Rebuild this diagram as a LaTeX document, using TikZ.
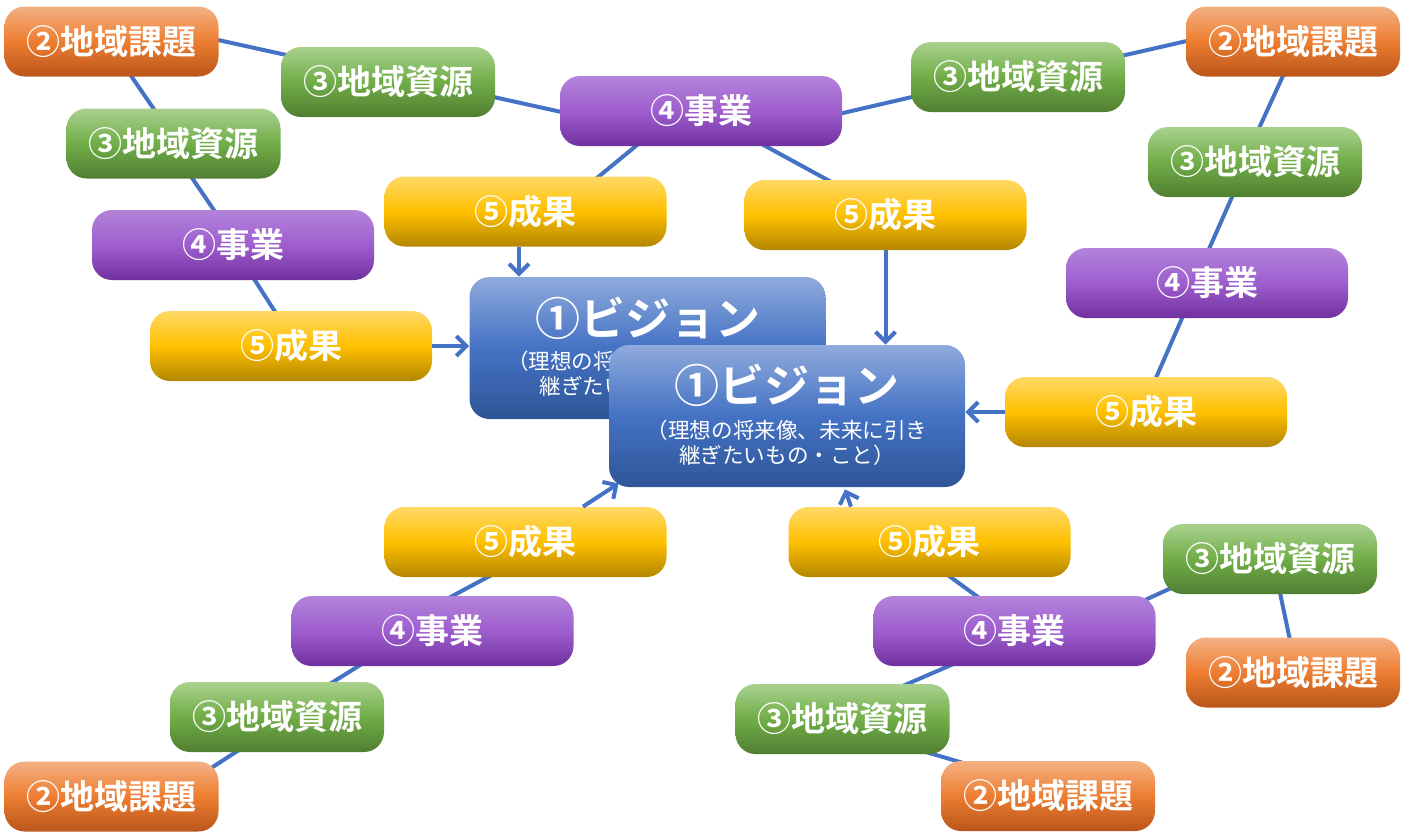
\documentclass[tikz,border=0pt]{standalone}
\usepackage{fontspec}
\newfontfamily\jp{Noto Sans CJK JP}[BoldFont={Noto Sans CJK JP Bold}]
\usetikzlibrary{arrows.meta,calc,backgrounds}
\definecolor{conn}{HTML}{4472C4}
\definecolor{orgT}{HTML}{F4B183}
\definecolor{orgM}{HTML}{ED7D31}
\definecolor{orgB}{HTML}{B9561A}
\definecolor{grnT}{HTML}{A9D18E}
\definecolor{grnM}{HTML}{70AD47}
\definecolor{grnB}{HTML}{507E32}
\definecolor{purT}{HTML}{B383DB}
\definecolor{purM}{HTML}{9E5ECE}
\definecolor{purB}{HTML}{7030A0}
\definecolor{ylwT}{HTML}{FFD966}
\definecolor{ylwM}{HTML}{FFC000}
\definecolor{ylwB}{HTML}{B38600}
\definecolor{bluT}{HTML}{8FAADC}
\definecolor{bluM}{HTML}{4472C4}
\definecolor{bluB}{HTML}{2F5597}
\begin{document}
\begin{tikzpicture}[x=0.5pt,y=-0.5pt,
  box/.style={rounded corners=10pt, minimum height=35pt, text=white, inner sep=0pt,
    font=\jp\bfseries\fontsize{17}{20}\selectfont},
  kadai/.style={box, minimum width=107pt, top color=orgT, bottom color=orgB, middle color=orgM},
  shigen/.style={box, minimum width=107pt, top color=grnT, bottom color=grnB, middle color=grnM},
  jigyo/.style={box, minimum width=141pt, top color=purT, bottom color=purB, middle color=purM},
  seika/.style={box, minimum width=141pt, top color=ylwT, bottom color=ylwB, middle color=ylwM},
  vision/.style={rounded corners=10pt, minimum width=178pt, minimum height=71pt, inner sep=0pt,
    top color=bluT, bottom color=bluB, middle color=bluM},
  vtitle/.style={text=white, inner sep=0pt, font=\jp\bfseries\fontsize{22.5}{27}\selectfont},
  vsub/.style={text=white, inner sep=0pt, align=center, font=\jp\fontsize{10.8}{12.5}\selectfont},
  link/.style={draw=conn, line width=2pt},
  arr/.style={link, -{Straight Barb[length=5pt,width=10pt]}}]
\useasboundingbox (0,0) rectangle (1407,832);

% top-left group
\node[kadai]  (r2a) at (111.5,41.5) {②地域課題};
\node[shigen] (r3a) at (388,82) {③地域資源};
\node[shigen] (r3b) at (173.5,143.5) {③地域資源};
\node[jigyo]  (r4a) at (233,245) {④事業};
\node[seika]  (r5a) at (291,346) {⑤成果};
% top centre group
\node[jigyo]  (r4b) at (701,111) {④事業};
\node[seika]  (r5b) at (525.5,211.5) {⑤成果};
\node[seika]  (r5c) at (885.5,215) {⑤成果};
% top-right group
\node[shigen] (r3c) at (1018,77) {③地域資源};
\node[kadai]  (r2b) at (1293,41.5) {②地域課題};
\node[shigen] (r3d) at (1255,162) {③地域資源};
\node[jigyo]  (r4c) at (1207,283) {④事業};
\node[seika]  (r5d) at (1146,412) {⑤成果};
% bottom-left group
\node[seika]  (r5e) at (525.5,542) {⑤成果};
\node[jigyo]  (r4d) at (432.5,631) {④事業};
\node[shigen] (r3e) at (277,717) {③地域資源};
\node[kadai]  (r2c) at (111.5,796.5) {②地域課題};
% bottom-right group
\node[seika]  (r5f) at (929.5,542) {⑤成果};
\node[jigyo]  (r4e) at (1014.5,631) {④事業};
\node[shigen] (r3f) at (1270,559) {③地域資源};
\node[kadai]  (r2d) at (1293,672.5) {②地域課題};
\node[shigen] (r3g) at (842.5,719) {③地域資源};
\node[kadai]  (r2e) at (1048,796) {②地域課題};

% vision boxes
\node[vision] (visA) at (647.5,348) {};
\node[vtitle] (visAt) at ($(visA)+(0,-30)$) {①ビジョン};
\node[vsub]   (visAs) at ($(visA)+(0,26)$) {（理想の将来像、未来に引き\\継ぎたいもの・こと）};
\node[vision] (visB) at (787,416) {};
\node[vtitle] (visBt) at ($(visB)+(0,-31)$) {①ビジョン};
\node[vsub]   (visBs) at ($(visB)+(0,26.5)$) {（理想の将来像、未来に引き\\継ぎたいもの・こと）};

% connectors behind the boxes
\begin{scope}[on background layer]
\draw[link] ($(r2a)+(88.5,-5.5)$) -- ($(r3a)+(-88,-24)$);
\draw[link] ($(r3a)+(92,12)$) -- ($(r4b)+(-126,4)$);
\draw[link] ($(r2a)+(13.5,25.5)$) -- ($(r3b)+(-13.5,-25.5)$);
\draw[link] ($(r3b)+(12.5,25.5)$) -- ($(r4a)+(-13,-26)$);
\draw[link] ($(r4a)+(16,26)$) -- ($(r5a)+(-10,-25)$);
\draw[link] ($(r4b)+(-53,25)$) -- ($(r5b)+(60.5,-24.5)$);
\draw[link] ($(r4b)+(46,25)$) -- ($(r5c)+(-39.5,-25)$);
\draw[link] ($(r4b)+(129,5)$) -- ($(r3c)+(-93,17)$);
\draw[link] ($(r3c)+(92,-18.5)$) -- ($(r2b)+(-93,-3.5)$);
\draw[link] ($(r2b)+(-6,25.5)$) -- ($(r3d)+(0,-25)$);
\draw[link] ($(r3d)+(-19,26)$) -- ($(r4c)+(-2,-25)$);
\draw[link] ($(r4c)+(-21,26)$) -- ($(r5d)+(6,-25)$);
\draw[link] ($(r5e)+(-28.5,30)$) -- ($(r4d)+(12.5,-31)$);
\draw[link] ($(r4d)+(-67.5,31)$) -- ($(r3e)+(48,-30)$);
\draw[link] ($(r3e)+(-35,31)$) -- ($(r2c)+(93.5,-24.5)$);
\draw[link] ($(r5f)+(15.5,31)$) -- ($(r4e)+(-32.5,-31)$);
\draw[link] ($(r4e)+(130.5,-31)$) -- ($(r3f)+(-90,25)$);
\draw[link] ($(r3f)+(9,29)$) -- ($(r2d)+(-2,-27.5)$);
\draw[link] ($(r4e)+(-56.5,31)$) -- ($(r3g)+(55.5,-31)$);
\draw[link] ($(r3g)+(83.5,33)$) -- ($(r2e)+(-78,-31)$);
\end{scope}

% arrows into the vision boxes
\draw[arr] (r5a.east) -- (r5a.east -| visA.west);
\draw[arr] ($(r5b.south)+(-6.5,0)$) -- ($(r5b.south |- visA.north)+(-6.5,0)$);
\draw[arr] (r5c.south) -- (r5c.south |- visB.north);
\draw[arr] (r5d.west) -- (r5d.west -| visB.east);
\draw[arr] ($(r5e.north)+(57.5,0)$) -- ($(visB.south west)+(10,-4)$);
\draw[arr] ($(r5f.north)+(-78.5,0)$) -- ($(visB.south)+(58,2)$);
\end{tikzpicture}
\end{document}
